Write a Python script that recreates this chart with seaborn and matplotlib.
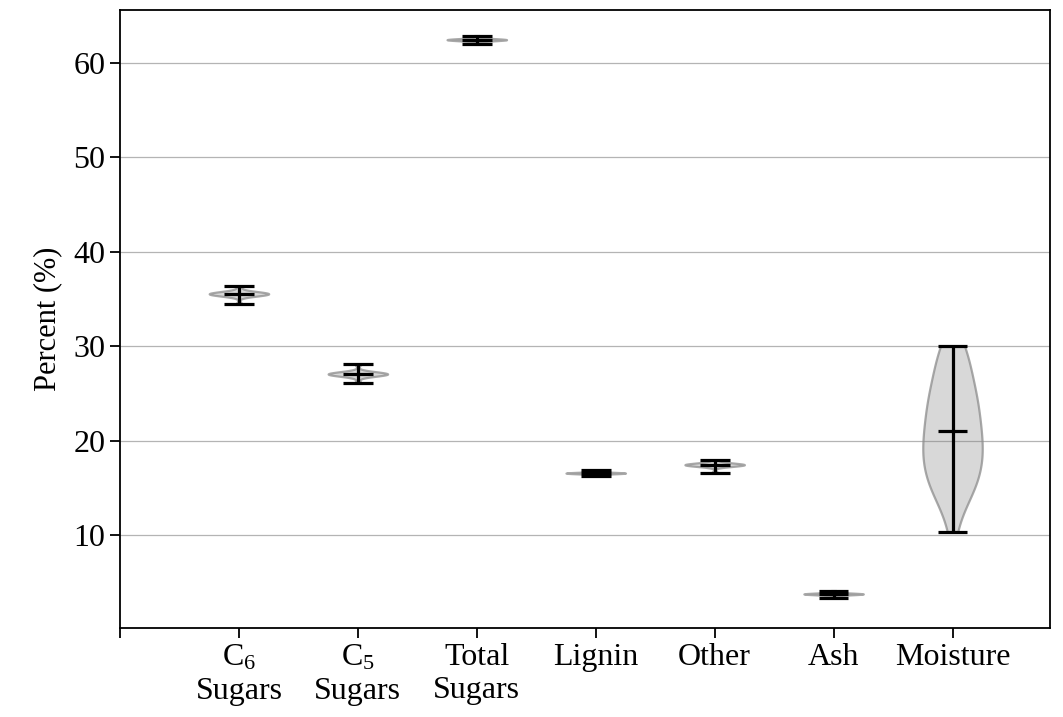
import numpy as np
import pandas as pd
import matplotlib
matplotlib.use("Agg")
import matplotlib.pyplot as plt
import seaborn as sns

# ---- data ----
categories = ["C$_6$\nSugars", "C$_5$\nSugars", "Total\nSugars", "Lignin", "Other", "Ash", "Moisture"]
c6_sugars = [34.45, 35.40, 35.44, 35.47, 35.50, 35.52, 35.54, 35.55, 35.57, 35.59, 35.62, 35.65, 35.70, 36.35]
c5_sugars = [26.15, 26.92, 26.96, 26.99, 27.01, 27.03, 27.05, 27.06, 27.08, 27.10, 27.12, 27.15, 27.19, 28.10]
total_sugars = [61.96, 62.40, 62.42, 62.43, 62.44, 62.45, 62.45, 62.46, 62.47, 62.48, 62.49, 62.50, 62.52, 62.90]
lignin = [16.25, 16.50, 16.52, 16.53, 16.54, 16.55, 16.55, 16.56, 16.57, 16.58, 16.59, 16.60, 16.62, 16.88]
other = [16.60, 17.32, 17.35, 17.38, 17.40, 17.42, 17.44, 17.45, 17.47, 17.49, 17.51, 17.54, 17.58, 17.95]
ash = [3.38, 3.70, 3.72, 3.73, 3.74, 3.75, 3.75, 3.76, 3.77, 3.78, 3.79, 3.80, 3.82, 4.12]
moisture = [10.3, 13.0, 14.0, 14.4, 14.7, 15.2, 15.6, 15.9,
            16.2, 16.9, 17.25, 17.6, 17.95, 18.3, 18.65, 19.0, 19.35, 19.7, 20.05, 20.4, 20.75,
            21.2, 21.65, 22.1, 22.55, 23.0, 23.5, 24.0, 24.2, 24.5, 25.0, 25.5, 26.0, 26.5, 27.5,
            28.0, 29.2, 29.6, 29.5, 30.0]
yticks = [10, 20, 30, 40, 50, 60]

series = [c6_sugars, c5_sugars, total_sugars, lignin, other, ash, moisture]

df = pd.DataFrame({
    "category": np.concatenate([[c] * len(v) for c, v in zip(categories, series)]),
    "value": np.concatenate([np.asarray(v, float) for v in series]),
})

# ---- style ----
plt.rcParams["font.family"] = ["Liberation Serif", "DejaVu Serif"]
plt.rcParams["mathtext.fontset"] = "custom"
plt.rcParams["mathtext.rm"] = "Liberation Serif"
plt.rcParams["mathtext.it"] = "Liberation Serif:italic"
plt.rcParams["mathtext.bf"] = "Liberation Serif:bold"

fig = plt.figure(figsize=(10.63, 7.17), dpi=100)
ax = fig.add_axes([0.1129, 0.1241, 0.8749, 0.8619])

sns.violinplot(data=df, x="category", y="value", order=categories,
               density_norm="width", cut=0, width=0.5, inner=None,
               color="gray", linewidth=1.6, linecolor="#9a9a9a", ax=ax)

for coll in ax.collections:
    coll.set_facecolor((0.5, 0.5, 0.5, 0.3))
    coll.set_edgecolor((0.55, 0.55, 0.55, 0.75))
    coll.set_linewidth(1.6)

# extrema and mean markers (computed from the data)
cap = 0.125
for i, vals in enumerate(series):
    v = np.asarray(vals, float)
    lo, hi, mu = v.min(), v.max(), v.mean()
    ax.vlines(i, lo, hi, color="black", linewidth=2.3, zorder=3)
    ax.hlines([lo, hi, mu], i - cap, i + cap, color="black", linewidth=2.3, zorder=3)

ax.set_xlim(-1, 6.82)
ax.set_ylim(0.15, 65.6)
ax.set_xticks(range(-1, len(categories)))
ax.set_xticklabels([""] + categories, fontsize=23)
ax.set_yticks(yticks)
ax.set_yticklabels([str(t) for t in yticks], fontsize=23)
ax.set_xlabel("")
ax.set_ylabel("Percent (%)", fontsize=22, labelpad=8)

ax.yaxis.grid(True, color="#b4b4b4", linewidth=0.9)
ax.xaxis.grid(False)
ax.set_axisbelow(True)
ax.tick_params(axis="both", direction="out", length=7, width=1.3, color="black")
for s in ax.spines.values():
    s.set_visible(True)
    s.set_color("black")
    s.set_linewidth(1.3)

fig.savefig("out.png", dpi=100)
